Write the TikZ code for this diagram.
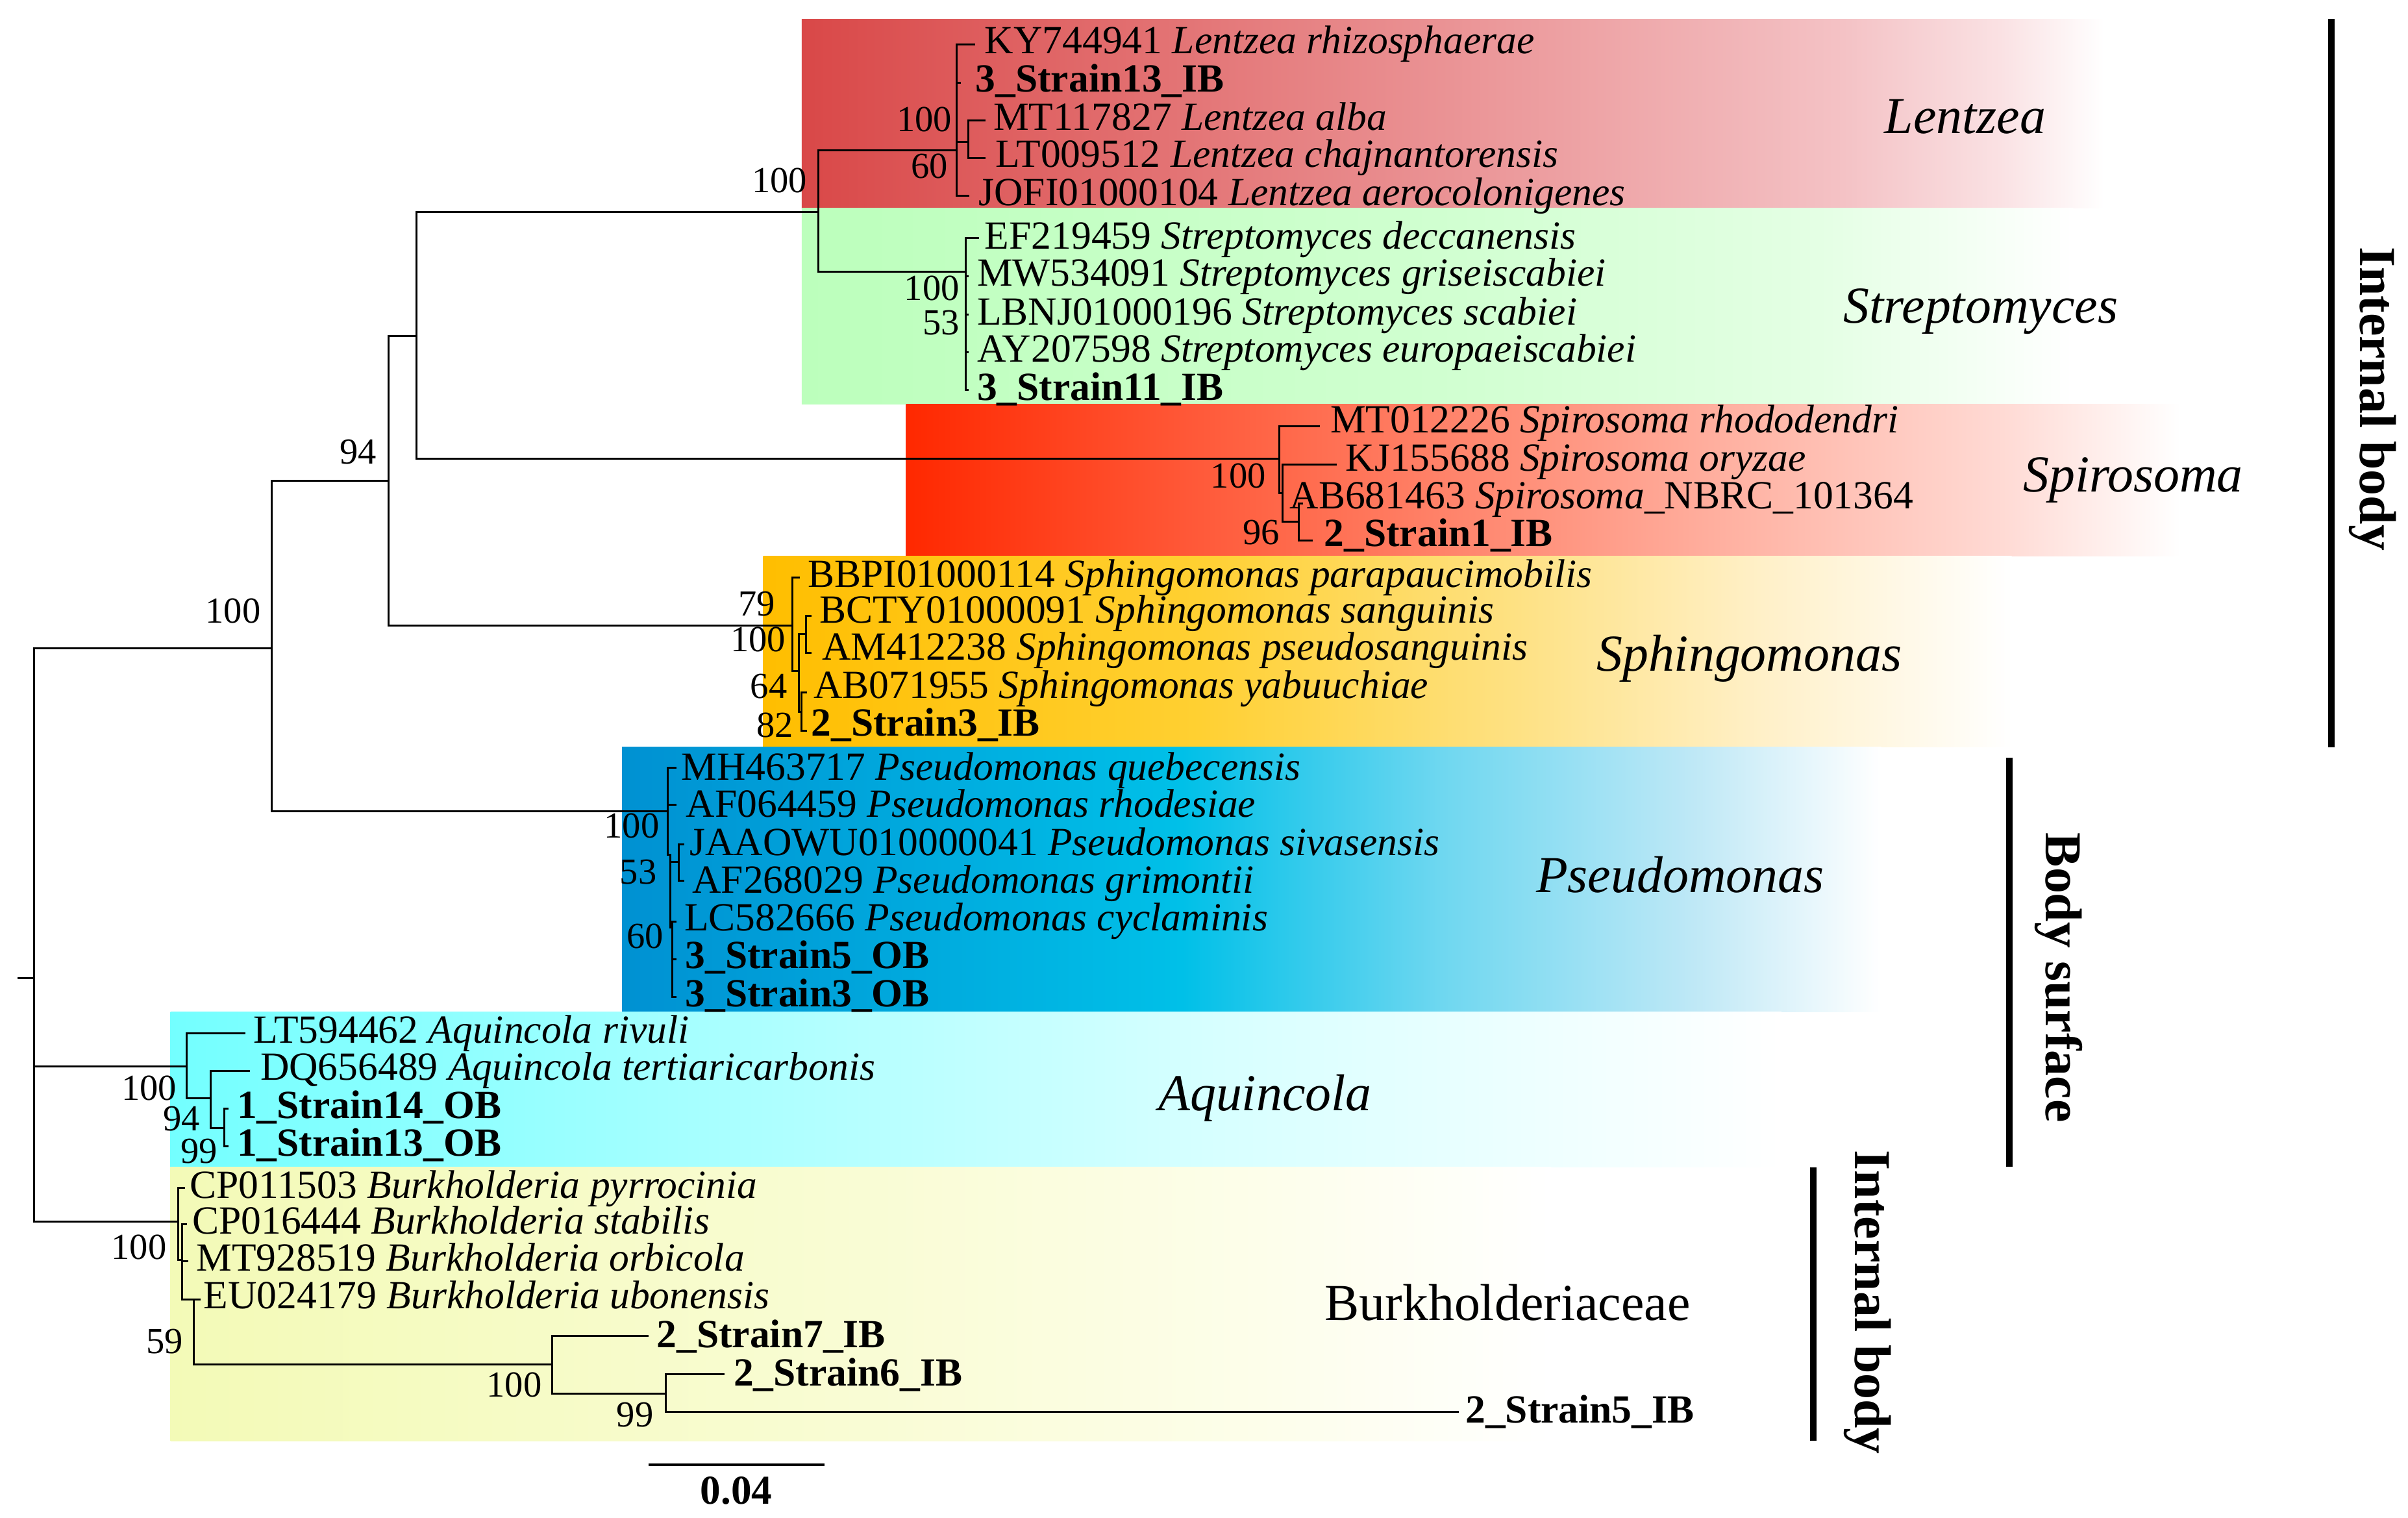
\documentclass[tikz,border=0pt]{standalone}
\usepackage{fontspec}
\setmainfont{Liberation Serif}
\newcommand{\myTx}{\fontsize{18.5}{20}\selectfont}
\newcommand{\myBs}{\fontsize{17}{18}\selectfont}
\newcommand{\myGr}{\fontsize{24}{26}\selectfont}
\newcommand{\mySc}{\fontsize{19}{20}\selectfont}
% colours
\definecolor{lentA}{RGB}{217,72,72}
\definecolor{lentB}{RGB}{236,155,157}
\definecolor{lentC}{RGB}{244,194,197}
\definecolor{lentD}{RGB}{250,225,227}
\definecolor{strA}{RGB}{188,255,188}
\definecolor{strB}{RGB}{208,255,208}
\definecolor{strC}{RGB}{228,255,228}
\definecolor{strD}{RGB}{248,255,248}
\definecolor{spiA}{RGB}{255,40,0}
\definecolor{spiB}{RGB}{255,105,75}
\definecolor{spiC}{RGB}{255,180,165}
\definecolor{spiD}{RGB}{255,218,212}
\definecolor{sphA}{RGB}{255,190,0}
\definecolor{sphB}{RGB}{255,208,50}
\definecolor{sphC}{RGB}{254,225,130}
\definecolor{sphD}{RGB}{255,240,200}
\definecolor{psA}{RGB}{0,145,210}
\definecolor{psB}{RGB}{0,192,232}
\definecolor{psC}{RGB}{110,215,240}
\definecolor{psD}{RGB}{190,232,246}
\definecolor{aqA}{RGB}{115,255,255}
\definecolor{aqB}{RGB}{170,255,255}
\definecolor{aqC}{RGB}{215,255,255}
\definecolor{buA}{RGB}{243,250,183}
\definecolor{buB}{RGB}{249,252,212}
\definecolor{buC}{RGB}{253,254,235}
\pgfdeclarehorizontalshading{shLent}{100bp}{color(0bp)=(lentA); color(25bp)=(lentA); color(52.5bp)=(lentB); color(65bp)=(lentC); color(71bp)=(lentD); color(75bp)=(white); color(100bp)=(white)}
\pgfdeclarehorizontalshading{shStr}{100bp}{color(0bp)=(strA); color(25bp)=(strA); color(50bp)=(strB); color(65bp)=(strC); color(72.5bp)=(strD); color(75bp)=(white); color(100bp)=(white)}
\pgfdeclarehorizontalshading{shSpi}{100bp}{color(0bp)=(spiA); color(25bp)=(spiA); color(40bp)=(spiB); color(58bp)=(spiC); color(68bp)=(spiD); color(75bp)=(white); color(100bp)=(white)}
\pgfdeclarehorizontalshading{shSph}{100bp}{color(0bp)=(sphA); color(25bp)=(sphA); color(42.5bp)=(sphB); color(55bp)=(sphC); color(65bp)=(sphD); color(75bp)=(white); color(100bp)=(white)}
\pgfdeclarehorizontalshading{shPs}{100bp}{color(0bp)=(psA); color(25bp)=(psA); color(47.25bp)=(psB); color(57.5bp)=(psC); color(67.5bp)=(psD); color(75bp)=(white); color(100bp)=(white)}
\pgfdeclarehorizontalshading{shAq}{100bp}{color(0bp)=(aqA); color(25bp)=(aqA); color(42.5bp)=(aqB); color(57.5bp)=(aqC); color(75bp)=(white); color(100bp)=(white)}
\pgfdeclarehorizontalshading{shBu}{100bp}{color(0bp)=(buA); color(25bp)=(buA); color(50bp)=(buB); color(65bp)=(buC); color(75bp)=(white); color(100bp)=(white)}
\begin{document}
\begin{tikzpicture}[x=0.025cm,y=-0.025cm,
  br/.style={line width=0.9pt, line cap=rect},
  sidebar/.style={line width=3.1pt},
  tx/.style={anchor=base west, inner sep=0pt, font=\myTx},
  bs/.style={anchor=east, inner sep=0pt, font=\myBs},
  gr/.style={anchor=base, inner sep=0pt, font=\myGr\itshape},
  side/.style={anchor=base, inner sep=0pt, rotate=-90, font=\myGr\bfseries}]
\useasboundingbox (0,0) rectangle (1568,988);
% ---------- coloured clade bands ----------
\shade[shading=shLent] (522,12.5) rectangle (1370,135.5);
\shade[shading=shStr] (522,135.5) rectangle (1350,263);
\shade[shading=shSpi] (590,263) rectangle (1420,362);
\shade[shading=shSph] (497,362) rectangle (1310,486.5);
\shade[shading=shPs] (405,486.5) rectangle (1225,658.7);
\shade[shading=shAq] (111,658.7) rectangle (1160,760);
\shade[shading=shBu] (111,760) rectangle (1010,938.5);
% ---------- internal nodes ----------
\coordinate (rt) at (12,637);
\coordinate (r) at (22,637);
\coordinate (nA) at (177,422);
\coordinate (nC) at (253,313);
\coordinate (nD) at (271,218.6);
\coordinate (nLS) at (533,138);
\coordinate (nL1) at (623,98);
\coordinate (nLM) at (630.7,92.2);
\coordinate (nSt) at (629,177);
\coordinate (nSp) at (833,298.7);
\coordinate (nSp2) at (835,321);
\coordinate (nSp3) at (845.6,339.6);
\coordinate (nS1) at (516,407.2);
\coordinate (nS2) at (520,436.8);
\coordinate (nS3) at (525,412.9);
\coordinate (nS4) at (522,463.6);
\coordinate (nP1) at (434.8,528.4);
\coordinate (nP2) at (436.6,556.6);
\coordinate (nP3) at (441.8,561);
\coordinate (nP4) at (437.8,604);
\coordinate (nAq) at (121.7,694.3);
\coordinate (nAq2) at (137,715.2);
\coordinate (nAq3) at (146,734.4);
\coordinate (nBu) at (116,795.5);
\coordinate (nBu2) at (118.5,820.3);
\coordinate (nBu3) at (126,846);
\coordinate (nN7) at (359.5,888.4);
\coordinate (nN6) at (433.7,907.3);
% ---------- leaves ----------
\coordinate (lKY) at (634.5,28.8);
\coordinate (lS13) at (625,53.8);
\coordinate (lMT) at (641,78.5);
\coordinate (lLT) at (641,102.8);
\coordinate (lJO) at (630.7,127.5);
\coordinate (lEF) at (637,155);
\coordinate (lMW) at (630,180);
\coordinate (lLB) at (630,205);
\coordinate (lAY) at (630,229.5);
\coordinate (lS11) at (630,254);
\coordinate (lMT2) at (859,277.6);
\coordinate (lKJ) at (870,302.3);
\coordinate (lAB) at (848,328);
\coordinate (lS1) at (854,352);
\coordinate (lBB) at (520,376.2);
\coordinate (lBC) at (528,400.9);
\coordinate (lAM) at (528,424.9);
\coordinate (lAB2) at (525,450.9);
\coordinate (lS3s) at (525,476);
\coordinate (lMH) at (440,500);
\coordinate (lAF1) at (440,524.2);
\coordinate (lJA) at (445,549.6);
\coordinate (lAF2) at (445,573.5);
\coordinate (lLC) at (440,600);
\coordinate (lS5) at (440,624.6);
\coordinate (lS3o) at (440,649);
\coordinate (lLT2) at (159,672.6);
\coordinate (lDQ) at (162.2,697.4);
\coordinate (lS14) at (148,722);
\coordinate (lS13o) at (148,746.5);
\coordinate (lCP1) at (120,773.5);
\coordinate (lCP2) at (121,797);
\coordinate (lMT3) at (122,821);
\coordinate (lEU) at (130,846);
\coordinate (lS7) at (421.5,869.8);
\coordinate (lS6) at (471,894.7);
\coordinate (lS5i) at (949.5,919.3);
% ---------- branches ----------
\draw[br] (rt) -- (r);
\foreach \p/\c in {r/nA, r/nAq, r/nBu, nA/nC, nA/nP1, nC/nD, nC/nS1, nD/nLS, nD/nSp,
  nLS/nL1, nLS/nSt, nL1/lKY, nL1/lS13, nL1/nLM, nL1/lJO, nLM/lMT, nLM/lLT,
  nSt/lEF, nSt/lMW, nSt/lLB, nSt/lAY, nSt/lS11,
  nSp/lMT2, nSp/nSp2, nSp2/lKJ, nSp2/nSp3, nSp3/lAB, nSp3/lS1,
  nS1/lBB, nS1/nS2, nS2/nS3, nS2/nS4, nS3/lBC, nS3/lAM, nS4/lAB2, nS4/lS3s,
  nP1/lMH, nP1/lAF1, nP1/nP2, nP2/nP3, nP2/nP4, nP3/lJA, nP3/lAF2, nP4/lLC, nP4/lS5, nP4/lS3o,
  nAq/lLT2, nAq/nAq2, nAq2/lDQ, nAq2/nAq3, nAq3/lS14, nAq3/lS13o,
  nBu/lCP1, nBu/nBu2, nBu2/lCP2, nBu2/lMT3, nBu2/nBu3, nBu3/lEU, nBu3/nN7,
  nN7/lS7, nN7/nN6, nN6/lS6, nN6/lS5i}
  \draw[br] (\p) |- (\c);
% ---------- leaf labels ----------
\node[tx] (tKY) at (641,34.9) {KY744941 \textit{Lentzea rhizosphaerae}};
\node[tx] (tS13) at (635,59.9) {\textbf{3\_Strain13\_IB}};
\node[tx] (tMT) at (646.6,84.6) {MT117827 \textit{Lentzea alba}};
\node[tx] (tLT) at (648,108.9) {LT009512 \textit{Lentzea chajnantorensis}};
\node[tx] (tJO) at (637,133.6) {JOFI01000104 \textit{Lentzea aerocolonigenes}};
\node[tx] (tEF) at (641,162.1) {EF219459 \textit{Streptomyces deccanensis}};
\node[tx] (tMW) at (636,186.4) {MW534091 \textit{Streptomyces griseiscabiei}};
\node[tx] (tLB) at (636,211.5) {LBNJ01000196 \textit{Streptomyces scabiei}};
\node[tx] (tAY) at (636,235.7) {AY207598 \textit{Streptomyces europaeiscabiei}};
\node[tx] (tS11) at (636,260.5) {\textbf{3\_Strain11\_IB}};
\node[tx] (tMT2) at (866,281.9) {MT012226 \textit{Spirosoma rhododendri}};
\node[tx] (tKJ) at (876,306.6) {KJ155688 \textit{Spirosoma oryzae}};
\node[tx] (tAB) at (839.6,331.2) {AB681463 \textit{Spirosoma}\_NBRC\_101364};
\node[tx] (tS1) at (862,355.9) {\textbf{2\_Strain1\_IB}};
\node[tx] (tBB) at (525.8,382.3) {BBPI01000114 \textit{Sphingomonas parapaucimobilis}};
\node[tx] (tBC) at (533.3,405.7) {BCTY01000091 \textit{Sphingomonas sanguinis}};
\node[tx] (tAM) at (535,429.9) {AM412238 \textit{Sphingomonas pseudosanguinis}};
\node[tx] (tAB2) at (529.6,454.7) {AB071955 \textit{Sphingomonas yabuuchiae}};
\node[tx] (tS3s) at (528,479.3) {\textbf{2\_Strain3\_IB}};
\node[tx] (tMH) at (443.5,507.8) {MH463717 \textit{Pseudomonas quebecensis}};
\node[tx] (tAF1) at (446.5,532) {AF064459 \textit{Pseudomonas rhodesiae}};
\node[tx] (tJA) at (448.8,556.8) {JAAOWU010000041 \textit{Pseudomonas sivasensis}};
\node[tx] (tAF2) at (450.6,581.4) {AF268029 \textit{Pseudomonas grimontii}};
\node[tx] (tLC) at (445.3,606.1) {LC582666 \textit{Pseudomonas cyclaminis}};
\node[tx] (tS5) at (446,630.7) {\textbf{3\_Strain5\_OB}};
\node[tx] (tS3o) at (446,655.4) {\textbf{3\_Strain3\_OB}};
\node[tx] (tLT2) at (164.7,679) {LT594462 \textit{Aquincola rivuli}};
\node[tx] (tDQ) at (169.3,703.3) {DQ656489 \textit{Aquincola tertiaricarbonis}};
\node[tx] (tS14) at (154.1,728) {\textbf{1\_Strain14\_OB}};
\node[tx] (tS13o) at (154.1,752.8) {\textbf{1\_Strain13\_OB}};
\node[tx] (tCP1) at (123.4,780.3) {CP011503 \textit{Burkholderia pyrrocinia}};
\node[tx] (tCP2) at (125,803.6) {CP016444 \textit{Burkholderia stabilis}};
\node[tx] (tMT3) at (127.6,827.5) {MT928519 \textit{Burkholderia orbicola}};
\node[tx] (tEU) at (132.4,852.2) {EU024179 \textit{Burkholderia ubonensis}};
\node[tx] (tS7) at (427.4,877.4) {\textbf{2\_Strain7\_IB}};
\node[tx] (tS6) at (477.5,902.2) {\textbf{2\_Strain6\_IB}};
\node[tx] (tS5i) at (954,926.6) {\textbf{2\_Strain5\_IB}};
% ---------- bootstrap values ----------
\node[bs] (b1) at (170,397.6) {100};
\node[bs] (b2) at (245.3,294.2) {94};
\node[bs] (b3) at (525.8,117.5) {100};
\node[bs] (b4) at (620,77.7) {100};
\node[bs] (b5) at (617.5,108.4) {60};
\node[bs] (b6) at (625,187.7) {100};
\node[bs] (b7) at (625,210.3) {53};
\node[bs] (b8) at (824.5,310) {100};
\node[bs] (b9) at (833.6,346.7) {96};
\node[bs] (b10) at (505,393) {79};
\node[bs] (b11) at (511.8,416.4) {100};
\node[bs] (b12) at (512.8,446.7) {64};
\node[bs] (b13) at (517,472) {82};
\node[bs] (b14) at (429.5,537.6) {100};
\node[bs] (b15) at (427.8,567.8) {53};
\node[bs] (b16) at (432.3,609.5) {60};
\node[bs] (b17) at (115.3,708.4) {100};
\node[bs] (b18) at (130.5,728.5) {94};
\node[bs] (b19) at (142,749.7) {99};
\node[bs] (b20) at (108.7,812) {100};
\node[bs] (b21) at (119.5,873.4) {59};
\node[bs] (b22) at (353,901.8) {100};
\node[bs] (b23) at (425.7,921) {99};
% ---------- clade names ----------
\node[gr] (gLen) at (1279.7,86.7) {Lentzea};
\node[gr] (gStr) at (1289.7,210.3) {Streptomyces};
\node[gr] (gSpi) at (1389,320.2) {Spirosoma};
\node[gr] (gSph) at (1139,437) {Sphingomonas};
\node[gr] (gPs) at (1094,581) {Pseudomonas};
\node[gr] (gAq) at (823.7,723) {Aquincola};
\node[gr, font=\myGr\upshape] (gBu) at (981.6,859.6) {Burkholderiaceae};
% ---------- side bars ----------
\coordinate (s1t) at (1518,12.3);
\coordinate (s1b) at (1518,486.7);
\coordinate (s2t) at (1308.4,493.3);
\coordinate (s2b) at (1308.4,759.8);
\coordinate (s3t) at (1180.7,760);
\coordinate (s3b) at (1180.7,938);
\draw[sidebar] (s1t) -- (s1b);
\draw[sidebar] (s2t) -- (s2b);
\draw[sidebar] (s3t) -- (s3b);
\node[side] (sl1) at (1537,259.6) {Internal body};
\node[side] (sl2) at (1332.3,636.5) {Body surface};
\node[side] (sl3) at (1208.2,848) {Internal body};
% ---------- scale bar ----------
\coordinate (sbL) at (422.3,953.7);
\coordinate (sbR) at (537,953.7);
\draw[line width=1.1pt] (sbL) -- (sbR);
\node[anchor=base, inner sep=0pt, font=\mySc\bfseries] (sbT) at (479.5,979.4) {0.04};
\end{tikzpicture}
\end{document}
